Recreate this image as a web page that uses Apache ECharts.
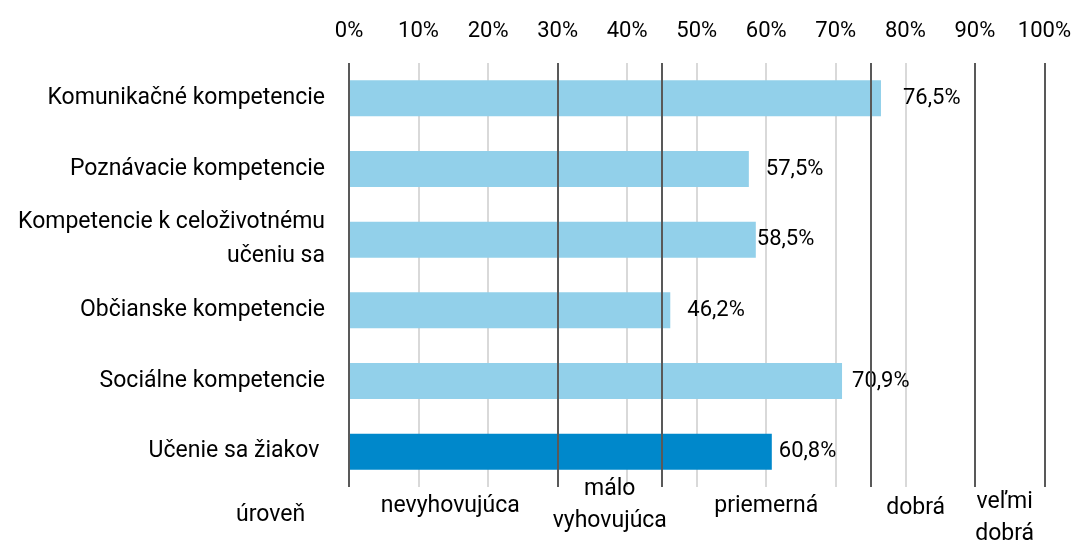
<!DOCTYPE html>
<html>
<head>
<meta charset="utf-8">
<script src="https://cdn.jsdelivr.net/npm/echarts@6.0.0/dist/echarts.min.js"></script>
<style>
  html, body { margin: 0; padding: 0; background: #fff; }
  #chart { width: 1074px; height: 541px; }
</style>
</head>
<body>
<div id="chart"></div>
<script>
// data
var categories = [
  "Komunikačné kompetencie",
  "Poznávacie kompetencie",
  "Kompetencie k celoživotnému\nučeniu sa",
  "Občianske kompetencie",
  "Sociálne kompetencie",
  "Učenie sa žiakov "
];
var values = [76.5, 57.5, 58.5, 46.2, 70.9, 60.8];
var levelNames = ["nevyhovujúca", "málo\nvyhovujúca", "priemerná", "dobrá", "veľmi\ndobrá"];
var levelBounds = [0, 30, 45, 75, 90, 100];

// label tweaks (style only)
var labelGap = [22, 17, 1, 17, 10, 7];
var levelOffset = [[-3, 0], [0, -17], [0, 0], [-7, 2], [-5, -4]];

var FONT = "Roboto";
var FS = 23;
var chart = echarts.init(document.getElementById("chart"));

var barData = values.map(function (v, i) {
  return {
    value: v,
    itemStyle: { color: i === values.length - 1 ? "#0088cb" : "#92d0ea" },
    label: { distance: labelGap[i] }
  };
});

var areas = levelNames.map(function (n, i) {
  return [
    { xAxis: levelBounds[i], name: n, label: { offset: levelOffset[i] } },
    { xAxis: levelBounds[i + 1] }
  ];
});

var option = {
  animation: false,
  textStyle: { fontFamily: FONT },
  title: {
    text: "úroveň",
    left: 231,
    top: 499,
    textStyle: { fontFamily: FONT, fontSize: FS, fontWeight: "normal", color: "#000" }
  },
  grid: { left: 349, right: 28, top: 63, bottom: 54 },
  xAxis: {
    type: "value",
    position: "top",
    min: 0,
    max: 100,
    interval: 10,
    axisLine: { show: false },
    axisTick: { show: false },
    axisLabel: {
      formatter: "{value}%",
      fontSize: 22,
      color: "#000",
      margin: 21,
      fontFamily: FONT
    },
    splitLine: { show: true, lineStyle: { color: "#d9d9d9", width: 2 } }
  },
  yAxis: {
    type: "category",
    inverse: true,
    data: categories,
    axisLine: { show: false },
    axisTick: { show: false },
    axisLabel: {
      fontSize: FS,
      color: "#000",
      margin: 24,
      lineHeight: 34,
      fontFamily: FONT
    }
  },
  series: [
    {
      type: "bar",
      data: barData,
      barWidth: 36,
      label: {
        show: true,
        position: "right",
        fontSize: 22,
        color: "#000",
        fontFamily: FONT,
        formatter: function (p) {
          return p.value.toFixed(1).replace(".", ",") + "%";
        }
      },
      markLine: {
        silent: true,
        symbol: "none",
        label: { show: false },
        lineStyle: { color: "#595959", width: 2, type: "solid" },
        data: levelBounds.map(function (b) { return { xAxis: b }; })
      },
      markArea: {
        silent: true,
        itemStyle: { color: "rgba(0,0,0,0)" },
        label: {
          show: true,
          position: "bottom",
          distance: 3,
          fontSize: FS,
          lineHeight: 32,
          color: "#000",
          fontFamily: FONT
        },
        data: areas
      }
    }
  ]
};

chart.setOption(option);
</script>
</body>
</html>
